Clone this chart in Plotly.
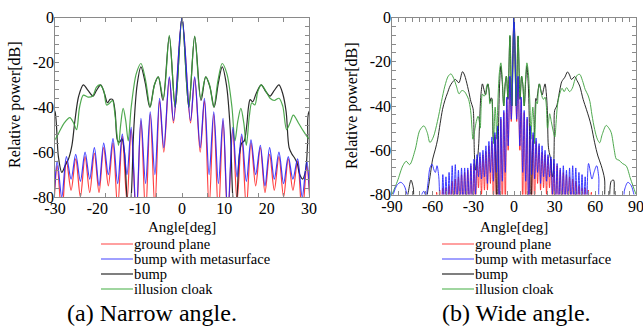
import plotly.graph_objects as go

# ---------------- data ----------------
ground_plane_deg = [-90, -58.2, -57.1, -55.9, -54.8, -53.6, -52.5, -51.3, -50.2, -49.0, -47.9, -46.7, -45.6, -44.4,
                    -43.3, -42.1, -41.0, -39.8, -38.7, -37.5, -36.4, -35.2, -34.1, -32.9, -31.8, -30.6, -29.5, -28.4,
                    -27.3, -26.2, -25.1, -24.0, -22.9, -21.8, -20.7, -19.6, -18.5, -17.4, -16.3, -15.2, -14.1, -13.0,
                    -12.0, -10.8, -9.7, -8.6, -7.5, -6.4, -5.3, -4.3, -3.0, -2.0, 0,
                    2.0, 3.0, 4.3, 5.3, 6.4, 7.5, 8.6, 9.7, 10.8, 12.0, 13.0, 14.1, 15.2, 16.3, 17.4, 18.5, 19.6, 20.7,
                    21.8, 22.9, 24.0, 25.1, 26.2, 27.3, 28.4, 29.5, 30.6, 31.8, 32.9, 34.1, 35.2, 36.4, 37.5, 38.7,
                    39.8, 41.0, 42.1, 43.3, 44.4, 45.6, 46.7, 47.9, 49.0, 50.2, 51.3, 52.5, 53.6, 54.8, 55.9, 57.1,
                    58.2, 90]
ground_plane_db = [-88, -88, -79, -88, -78, -88, -77, -88, -77, -88, -76, -88, -74, -88,
                   -73, -88, -72, -88, -71, -88, -70, -88, -69, -88, -67, -88, -66, -88,
                   -64, -77, -63, -80, -62, -78, -60.5, -78, -58, -75, -56, -85, -53, -82,
                   -50, -90, -46, -88, -43, -85, -37, -60, -27, -47, 0,
                   -47, -27, -60, -37, -85, -43, -88, -46, -90, -50, -82, -53, -85, -56, -75, -58, -78, -61,
                   -77, -62, -80, -63, -77, -64, -88, -66, -88, -67, -88, -69, -88, -70, -88, -71,
                   -88, -72, -88, -73, -88, -74, -88, -76, -88, -77, -88, -77, -88, -78, -88, -79,
                   -88, -88]

metasurface_deg = [-90, -88, -86, -83.5, -81, -78.5, -76, -70, -68, -66.5, -65, -63.5, -62, -60.5, -59, -58,
                   -56.8, -55.5, -54.5, -53.6, -52.5, -51.3, -50.2, -49.0, -47.9, -46.7, -45.6, -44.4, -43.3,
                   -42.1, -41.0, -39.8, -38.7, -37.5, -36.4, -35.2, -34.1, -32.9, -31.8, -30.6, -29.5, -28.4,
                   -27.3, -26.2, -25.1, -24.0, -22.9, -21.8, -20.7, -19.6, -18.5, -17.4, -16.3, -15.2, -14.1,
                   -13.0, -12.0, -10.8, -9.7, -8.6, -7.5, -6.4, -5.3, -4.3, -3.0, -2.0, 0,
                   2.0, 3.0, 4.3, 5.3, 6.4, 7.5, 8.6, 9.7, 10.8, 12.0, 13.0, 14.1, 15.2, 16.3, 17.4, 18.5, 19.6,
                   20.7, 21.8, 22.9, 24.0, 25.1, 26.2, 27.3, 28.4, 29.5, 30.6, 31.8, 32.9, 34.1, 35.2, 36.4,
                   37.5, 38.7, 39.8, 41.0, 42.1, 43.3, 44.4, 45.6, 46.7, 47.9, 49.0, 50.2, 51.3, 52.5, 53.6,
                   55.0, 57.5, 59.0, 61.0, 62.5, 64.4, 80, 81.5, 84, 86.5, 88.5, 90]
metasurface_db = [-82, -78, -75.5, -74.5, -76, -81, -86, -86, -80, -78.5, -81, -75, -68, -66.3, -69, -70,
                  -67, -72, -84, -86, -71, -86, -72, -86, -70, -86, -67, -86, -66.5,
                  -86, -69, -86, -68, -86, -68, -86, -68, -86, -66, -86, -64, -80,
                  -62, -72, -61, -73, -60, -72, -58, -75, -56, -70, -54, -74, -52,
                  -70, -49, -88, -45, -74, -42, -70, -36, -58, -26.5, -46, 0,
                  -46, -26.5, -58, -36, -70, -42, -74, -45, -88, -49, -71, -52, -73, -54.5, -70, -57, -75,
                  -58, -72, -60, -74, -62, -72, -63, -80, -64, -86, -66, -86, -68, -86, -67,
                  -86, -69, -86, -68, -86, -67, -86, -68, -86, -70, -86, -71, -86, -72, -86,
                  -66, -73, -70, -67, -72, -85, -85, -78, -74.5, -76, -80, -83]

bump_deg = [-90, -80, -78, -76, -74.3, -72.8, -66, -63.5, -61.5, -60, -58, -56.3, -54.5, -52.7, -51, -49,
            -47.2, -45.6, -43.2, -40.7, -38, -36.5, -35.3, -33.2, -31.8, -30.5, -30, -29.2, -28.4, -27.6,
            -26.8, -26, -25.3, -24.4, -23.3, -22.2, -21, -20.2, -19.2, -18.3, -17.6, -17.0, -16.4, -15.8,
            -15.2, -14.7, -14.2, -13.6, -13.0, -12.5, -12.0, -11.4, -10.6, -9.7, -8.7, -7.6, -6.5, -5.6,
            -4.5, -3.0, -1.6, 0,
            1.6, 3.0, 4.5, 5.6, 6.6, 7.6, 8.6, 9.5, 10.5, 11.4, 12.0, 12.5, 13.0, 13.5, 14.1, 14.7, 15.3,
            15.7, 16.1, 16.7, 17.5, 18.7, 19.8, 20.8, 21.8, 22.9, 23.8, 24.6, 25.3, 26, 26.6, 27.2, 27.8,
            28.5, 29.2, 29.7, 30, 31.5, 33.9, 35.2, 36.3, 37.5, 39.5, 41, 42.4, 44.8, 46.5, 48.5, 51,
            53.4, 55.2, 57, 59.5, 61.9, 64.4, 66.8, 67.6, 69.5, 71.7, 73.5, 75.4, 90]
bump_db = [-85, -85, -79, -73.5, -77, -85, -85, -78, -70, -64, -59.5, -55, -48, -41.5, -37.5, -34,
           -31, -29.4, -28, -29.5, -24.5, -26, -28.5, -34, -38, -40.5, -42, -62, -69, -66,
           -63, -57, -46, -35, -30, -32.5, -35, -32.5, -30, -34, -38, -36.5, -36.5, -42,
           -55, -55.5, -54, -60, -80, -88, -80, -50, -30, -22, -29, -40, -30, -26.5,
           -37, -8.5, -40, 0,
           -40, -8.5, -37, -26.5, -31, -40, -29, -22, -30, -50, -80, -88, -80, -62, -56, -55, -48,
           -40, -36.6, -37.5, -34, -30, -33, -35, -32.5, -30, -34, -42, -58, -61, -62.6, -65, -70,
           -72, -68, -55, -42, -40, -32.4, -29, -28, -27, -24.6, -26, -28, -26.7, -28.5, -31, -37,
           -41.5, -45, -49, -56.6, -62.6, -67, -73, -85, -85, -74, -73.5, -85, -85]

cloak_deg = [-90, -86, -82, -79.5, -77, -73, -69.5, -66.5, -64, -62, -59.5, -56.5, -53.5, -51, -48.5, -46.5,
             -44.5, -42.5, -40.5, -38.5, -36.5, -35, -33.5, -32, -31, -30.3, -29, -27.8, -26.5, -25.6, -24.9,
             -24.2, -23.3, -22.2, -21.1, -20.2, -19.4, -18.5, -17.8, -17.0, -16.4, -15.8, -15.0, -14.5, -13.9,
             -13.3, -12.7, -12.0, -10.8, -9.7, -8.6, -7.5, -6.5, -5.6, -4.4, -3.0, -1.6, 0,
             1.6, 3.0, 4.4, 5.6, 6.5, 7.5, 8.5, 9.5, 10.6, 11.8, 12.5, 13.2, 13.9, 14.6, 15.2, 15.9, 16.5,
             17.2, 17.9, 18.7, 19.7, 20.8, 21.8, 22.9, 23.8, 24.7, 25.5, 26.3, 27.5, 28.8, 30.1, 31, 32,
             33.5, 35.5, 37, 38.8, 41, 43, 45, 46.8, 48.5, 50.5, 52.5, 54.5, 56, 57.5, 59.5, 61.5, 63.2,
             65, 68, 70, 71.7, 74, 75.5, 77.5, 80, 82.7, 86, 90]
cloak_db = [-80, -74, -67, -65, -66.5, -60, -51, -49, -52, -56.5, -54, -47, -38, -31, -26.5, -25.5,
            -27.5, -31, -34.5, -33, -33.5, -35, -37, -42, -50, -55, -51, -47, -44.6, -47, -50,
            -40, -34.6, -35.5, -35, -31, -30, -32.5, -39, -38, -37, -44, -57, -48, -40.5,
            -46, -55, -40, -25, -20.5, -28, -40, -30, -26.5, -36, -8, -40, 0,
            -40, -8.3, -36, -26.5, -30, -40, -28, -20.5, -25, -40, -55, -46, -40.5, -47, -57, -44, -38,
            -39, -33, -30, -32.5, -36, -37, -36, -39.5, -50, -47, -43.5, -47, -51, -54, -48, -40,
            -35, -32, -33.5, -31.7, -33.5, -32, -28, -26, -25.7, -28.5, -32.5, -35, -38, -44, -50.6, -55, -56.6,
            -53, -48.8, -50, -52, -60, -64, -64.5, -66, -67, -73, -80]

series_names = ["ground plane", "bump with metasurface", "bump", "illusion cloak"]
series_x = [ground_plane_deg, metasurface_deg, bump_deg, cloak_deg]
series_y = [ground_plane_db, metasurface_db, bump_db, cloak_db]
series_colors = ["rgba(255,30,30,0.85)", "rgba(30,30,255,0.85)", "rgba(20,20,20,0.9)", "rgba(60,160,60,0.9)"]
legend_colors = ["#ff8080", "#8080ff", "#555555", "#80c880"]
draw_order = [0, 2, 3, 1]

narrow_xticks = [-30, -20, -10, 0, 10, 20, 30]
wide_xticks = [-90, -60, -30, 0, 30, 60, 90]
db_ticks = [0, -20, -40, -60, -80]

W, H = 643, 333
FONT = "Liberation Serif"
AX = "#8a8a8a"


def px(x):
    return x / W


def py(y):
    return 1 - y / H


fig = go.Figure()

# data traces: left (narrow) on x/y, right (wide) on x2/y2
for (xa, ya, lw) in [("x", "y", 1.2), ("x2", "y2", 1.0)]:
    for i in draw_order:
        fig.add_trace(go.Scatter(
            x=series_x[i], y=series_y[i], mode="lines", name=series_names[i],
            line=dict(color=series_colors[i], width=lw, shape="spline", smoothing=0.9),
            xaxis=xa, yaxis=ya, showlegend=False, hoverinfo="skip"))

# empty traces so the label overlay axes are drawn
fig.add_trace(go.Scatter(x=[], y=[], xaxis="x3", yaxis="y3", showlegend=False))
fig.add_trace(go.Scatter(x=[], y=[], xaxis="x4", yaxis="y4", showlegend=False))

left_x = [px(55), px(309)]
left_y = [py(197), py(17.5)]
right_x = [px(392), px(636)]
right_y = [py(194.5), py(17.5)]

tick_common = dict(ticks="inside", ticklen=4, tickwidth=1, tickcolor=AX, showticklabels=False,
                   showline=True, linecolor=AX, linewidth=1, mirror="ticks", showgrid=False,
                   zeroline=False)
label_common = dict(ticks="", showline=False, showgrid=False, zeroline=False,
                    ticklabeloverflow="allow",
                    tickfont=dict(family=FONT, size=16, color="black"))

fig.update_layout(
    width=W, height=H, margin=dict(l=0, r=0, t=0, b=0),
    paper_bgcolor="white", plot_bgcolor="white", template="none", showlegend=False,
    xaxis=dict(domain=left_x, range=[-30, 30], anchor="y", tickmode="linear", tick0=-30, dtick=6,
               **tick_common),
    yaxis=dict(domain=left_y, range=[-80, 0], anchor="x", tickmode="linear", tick0=-80, dtick=4,
               **tick_common),
    xaxis2=dict(domain=right_x, range=[-90, 90], anchor="y2", tickmode="linear", tick0=-90, dtick=5,
                **tick_common),
    yaxis2=dict(domain=right_y, range=[-80, 0], anchor="x2", tickmode="linear", tick0=-80, dtick=4,
                **tick_common),
    xaxis3=dict(overlaying="x", anchor="y3", range=[-30, 30], tickvals=narrow_xticks,
                ticktext=[str(v) for v in narrow_xticks], side="bottom", **label_common),
    yaxis3=dict(overlaying="y", anchor="x3", range=[-80, 0], tickvals=db_ticks,
                ticktext=[str(v) for v in db_ticks], side="left", **label_common),
    xaxis4=dict(overlaying="x2", anchor="y4", range=[-90, 90], tickvals=wide_xticks,
                ticktext=[str(v) for v in wide_xticks], side="bottom", **label_common),
    yaxis4=dict(overlaying="y2", anchor="x4", range=[-80, 0], tickvals=db_ticks,
                ticktext=[str(v) for v in db_ticks], side="left", **label_common),
)

ann = []
txt_font = dict(family=FONT, size=15, color="black")
leg_font = dict(family=FONT, size=14.5, color="black")
title_font = dict(family=FONT, size=16, color="black")
# axis titles
ann.append(dict(text="Relative power[dB]", x=px(15), y=py(105), textangle=-90, font=title_font))
ann.append(dict(text="Relative power[dB]", x=px(352), y=py(106), textangle=-90, font=title_font))
ann.append(dict(text="Angle[deg]", x=px(182), y=py(227), font=txt_font))
ann.append(dict(text="Angle[deg]", x=px(514), y=py(227), font=txt_font))
# captions
cap_font = dict(family=FONT, size=24, color="black")
ann.append(dict(text="(a) Narrow angle.", x=px(152), y=py(313), font=cap_font))
ann.append(dict(text="(b) Wide angle.", x=px(516), y=py(313), font=cap_font))

shapes = []
legend_rows = [244, 259, 274, 289]
for lx0, lx1 in [(101, 133), (442, 474)]:
    for k, name in enumerate(series_names):
        yy = legend_rows[k]
        shapes.append(dict(type="line", xref="paper", yref="paper", x0=px(lx0), x1=px(lx1),
                           y0=py(yy), y1=py(yy), line=dict(color=legend_colors[k], width=1.5)))
        ann.append(dict(text=name, x=px(lx1), y=py(yy), xanchor="left", font=leg_font,
                        borderpad=0))

for a in ann:
    a.setdefault("xref", "paper")
    a.setdefault("yref", "paper")
    a.setdefault("showarrow", False)
    a.setdefault("xanchor", "center")
    a.setdefault("yanchor", "middle")

fig.update_layout(annotations=ann, shapes=shapes)
fig.write_html("out.html", config={"displayModeBar": False},
               post_script="document.body.style.margin='0px';")
